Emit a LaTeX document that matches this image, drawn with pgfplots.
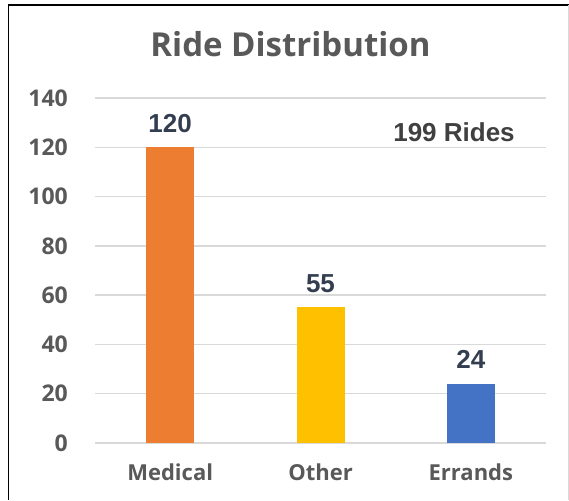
\documentclass[border=0pt]{standalone}
\usepackage{pgfplots}
\pgfplotsset{compat=1.18}
\usepackage{fontspec}
\setmainfont{Open Sans}
\newfontfamily\arialf{Liberation Sans}
\definecolor{gridgray}{HTML}{D9D9D9}
\definecolor{txtgray}{HTML}{595959}
\definecolor{navy}{HTML}{333F50}
\definecolor{darkgray}{HTML}{404040}
\definecolor{c1}{HTML}{ED7D31}
\definecolor{c2}{HTML}{FFC000}
\definecolor{c3}{HTML}{4472C4}
\begin{document}
\begin{tikzpicture}[x=1pt,y=1pt]
\useasboundingbox (0,0) rectangle (569,500);
\fill[white] (0,0) rectangle (569,500);
\draw[line width=1.6pt] (8.5,0) -- (8.5,495) -- (569,495);
\draw[line width=0.8pt, gridgray] (568,0) -- (568,495);
\node[anchor=base, text=txtgray, font=\fontsize{33}{33}\selectfont\bfseries] at (290.5,443) {Ride Distribution};
\begin{axis}[
  at={(95pt,57pt)}, anchor=south west,
  width=451pt, height=345pt, scale only axis,
  xmin=-0.5, xmax=2.5, ymin=0, ymax=140,
  ytick={0,20,...,140},
  xtick={0,1,2}, xticklabels={Medical,Other,Errands},
  axis line style={draw=none},
  ymajorgrids, grid style={color=gridgray, line width=1.5pt},
  major tick length=0pt,
  /pgf/number format/assume math mode=true,
  yticklabel style={font=\fontsize{23}{23}\selectfont\bfseries, text=txtgray, anchor=east, inner sep=0pt, xshift=-27pt},
  xticklabel style={font=\fontsize{22}{22}\selectfont\bfseries, text=txtgray, anchor=base, inner sep=0pt, yshift=-37pt},
  ybar, bar width=48pt, bar shift=0pt,
  nodes near coords,
  nodes near coords style={font=\arialf\fontsize{26}{26}\selectfont\bfseries, text=navy, anchor=base, inner sep=0pt, yshift=15pt},
  clip=false,
]
\addplot[fill=c1, draw=none] coordinates {(0,120)};
\addplot[fill=c2, draw=none] coordinates {(1,55)};
\addplot[fill=c3, draw=none] coordinates {(2,24)};
\end{axis}
\node[anchor=base, text=darkgray, font=\arialf\fontsize{26}{26}\selectfont\bfseries] at (454,358) {199 Rides};
\end{tikzpicture}
\end{document}
